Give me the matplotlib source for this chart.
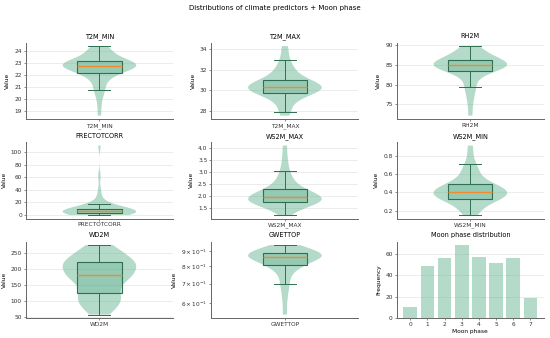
import matplotlib
matplotlib.use("Agg")
import matplotlib.pyplot as plt
from matplotlib.ticker import MultipleLocator

variables = ["T2M_MIN", "T2M_MAX", "RH2M", "PRECTOTCORR", "WS2M_MAX", "WS2M_MIN", "WD2M", "GWETTOP"]

t2m_min = [18.6, 19.5, 20.2, 20.6, 20.75, 21.1, 21.4, 21.6, 21.8, 21.95, 22.05, 22.1,
           22.2, 22.3, 22.4, 22.45, 22.5, 22.55, 22.6, 22.65, 22.7, 22.72, 22.74, 22.75,
           22.76, 22.78, 22.8, 22.82, 22.85, 22.88, 22.9, 22.95, 23.0, 23.05, 23.1, 23.15,
           23.2, 23.25, 23.35, 23.45, 23.55, 23.65, 23.8, 23.95, 24.1, 24.2, 24.3, 24.4]
t2m_max = [27.5, 27.9, 28.3, 28.7, 29.0, 29.2, 29.35, 29.5, 29.6, 29.65, 29.75, 29.85,
           29.9, 30.0, 30.05, 30.1, 30.15, 30.2, 30.25, 30.28, 30.32, 30.4, 30.45, 30.5,
           30.6, 30.7, 30.75, 30.85, 30.95, 31.0, 31.1, 31.3, 31.5, 31.7, 31.9, 32.2,
           32.5, 32.9, 33.6, 34.3]
rh2m = [72.2, 75.0, 77.0, 78.5, 79.3, 80.5, 81.5, 82.3, 82.9, 83.3, 83.5, 83.7,
        83.9, 84.1, 84.3, 84.45, 84.6, 84.7, 84.8, 84.85, 84.95, 85.05, 85.15, 85.3,
        85.45, 85.6, 85.75, 85.9, 86.05, 86.2, 86.45, 86.7, 87.0, 87.3, 87.6, 88.0,
        88.4, 88.8, 89.3, 89.7]
prectotcorr = [0.0, 0.3, 0.8, 1.2, 1.8, 2.2, 2.6, 2.9, 3.0, 3.2, 3.5, 3.8,
               4.1, 4.4, 4.7, 5.0, 5.3, 5.6, 5.8, 6.0, 6.2, 6.5, 6.8, 7.1,
               7.4, 7.7, 8.0, 8.4, 8.8, 9.2, 10.0, 11.5, 13.0, 15.0, 17.0, 21.0,
               28.0, 40.0, 62.0, 110.0]
ws2m_max = [1.20, 1.35, 1.45, 1.52, 1.58, 1.62, 1.66, 1.68, 1.70, 1.72, 1.74, 1.77,
            1.80, 1.82, 1.84, 1.86, 1.88, 1.90, 1.92, 1.94, 1.96, 1.99, 2.02, 2.05,
            2.08, 2.12, 2.16, 2.20, 2.23, 2.26, 2.32, 2.40, 2.50, 2.60, 2.72, 2.85,
            3.05, 3.30, 3.65, 4.10]
ws2m_min = [0.15, 0.17, 0.20, 0.23, 0.26, 0.28, 0.30, 0.31, 0.315, 0.32, 0.33, 0.34,
            0.35, 0.36, 0.37, 0.38, 0.385, 0.39, 0.395, 0.40, 0.405, 0.41, 0.42, 0.43,
            0.44, 0.45, 0.46, 0.47, 0.475, 0.48, 0.50, 0.52, 0.54, 0.57, 0.60, 0.64,
            0.67, 0.71, 0.80, 0.91]
wd2m = [58, 66, 76, 86, 93, 99, 104, 109, 115, 122, 128, 137, 147, 157, 165, 171,
        175, 177, 178, 179, 182, 190, 197, 202, 206, 210, 213, 216, 219, 221, 223,
        226, 230, 236, 243, 250, 257, 263, 269, 275]
gwettop = [0.55, 0.62, 0.67, 0.70, 0.73, 0.76, 0.78, 0.79, 0.80, 0.805, 0.812, 0.82,
           0.83, 0.835, 0.84, 0.845, 0.85, 0.853, 0.856, 0.858, 0.862, 0.865, 0.868, 0.87,
           0.873, 0.876, 0.879, 0.882, 0.886, 0.89, 0.895, 0.90, 0.905, 0.91, 0.915, 0.92,
           0.927, 0.933, 0.94, 0.945]

moon_phases = [0, 1, 2, 3, 4, 5, 6, 7]
moon_counts = [10, 49, 56, 68, 57, 51, 56, 19]

series = [t2m_min, t2m_max, rh2m, prectotcorr, ws2m_max, ws2m_min, wd2m, gwettop]

# y tick spacing per panel (style)
tick_step = {"T2M_MIN": 1, "T2M_MAX": 2, "RH2M": 5, "PRECTOTCORR": 20,
             "WS2M_MAX": 0.5, "WS2M_MIN": 0.2, "WD2M": 50}

GREEN = "#5aae8a"
EDGE = "#2f6e50"
MED = "#f28a2b"
FS_TICK = 4.2
FS_TITLE = 4.7

fig, axes = plt.subplots(3, 3, figsize=(5.5, 3.38), dpi=100)
fig.subplots_adjust(left=0.047, right=0.989, top=0.874, bottom=0.059,
                    wspace=0.26, hspace=0.30)
fig.suptitle("Distributions of climate predictors + Moon phase", fontsize=5.0, y=0.985)

def style(ax):
    for s in ("top", "right"):
        ax.spines[s].set_visible(False)
    for s in ("left", "bottom"):
        ax.spines[s].set_color("#666666")
        ax.spines[s].set_linewidth(0.7)
    ax.grid(axis="y", color="#e4e4e4", linewidth=0.5)
    ax.set_axisbelow(True)
    ax.tick_params(which="both", labelsize=FS_TICK, length=1.6, width=0.4, pad=1.2,
                   colors="#333333")

flat = axes.ravel()
for ax, name, vals in zip(flat[:8], variables, series):
    parts = ax.violinplot(vals, positions=[1], widths=0.5, showextrema=False,
                          bw_method=0.38)
    for b in parts["bodies"]:
        b.set_facecolor(GREEN)
        b.set_edgecolor("none")
        b.set_alpha(0.45)
    ax.boxplot(vals, positions=[1], widths=0.3, patch_artist=True, showfliers=False,
               boxprops=dict(facecolor=(0.35, 0.68, 0.54, 0.35), edgecolor=EDGE, linewidth=0.8),
               whiskerprops=dict(color=EDGE, linewidth=0.7),
               capprops=dict(color=EDGE, linewidth=0.7),
               medianprops=dict(color=MED, linewidth=1.0))
    ax.set_xlim(0.5, 1.5)
    ax.set_xticks([1])
    ax.set_xticklabels([name])
    ax.set_title(name, fontsize=FS_TITLE, pad=3)
    ax.set_ylabel("Value", fontsize=FS_TICK, labelpad=3)
    if name == "GWETTOP":
        ax.set_yscale("log")
    else:
        ax.yaxis.set_major_locator(MultipleLocator(tick_step[name]))
    style(ax)

ax = flat[8]
ax.bar(moon_phases, moon_counts, color=GREEN, alpha=0.45, width=0.8)
ax.set_xticks(moon_phases)
ax.yaxis.set_major_locator(MultipleLocator(20))
ax.set_title("Moon phase distribution", fontsize=FS_TITLE, pad=3)
ax.set_xlabel("Moon phase", fontsize=FS_TICK, labelpad=1.5)
ax.set_ylabel("Frequency", fontsize=FS_TICK, labelpad=3)
style(ax)

fig.savefig("out.png", dpi=100)
